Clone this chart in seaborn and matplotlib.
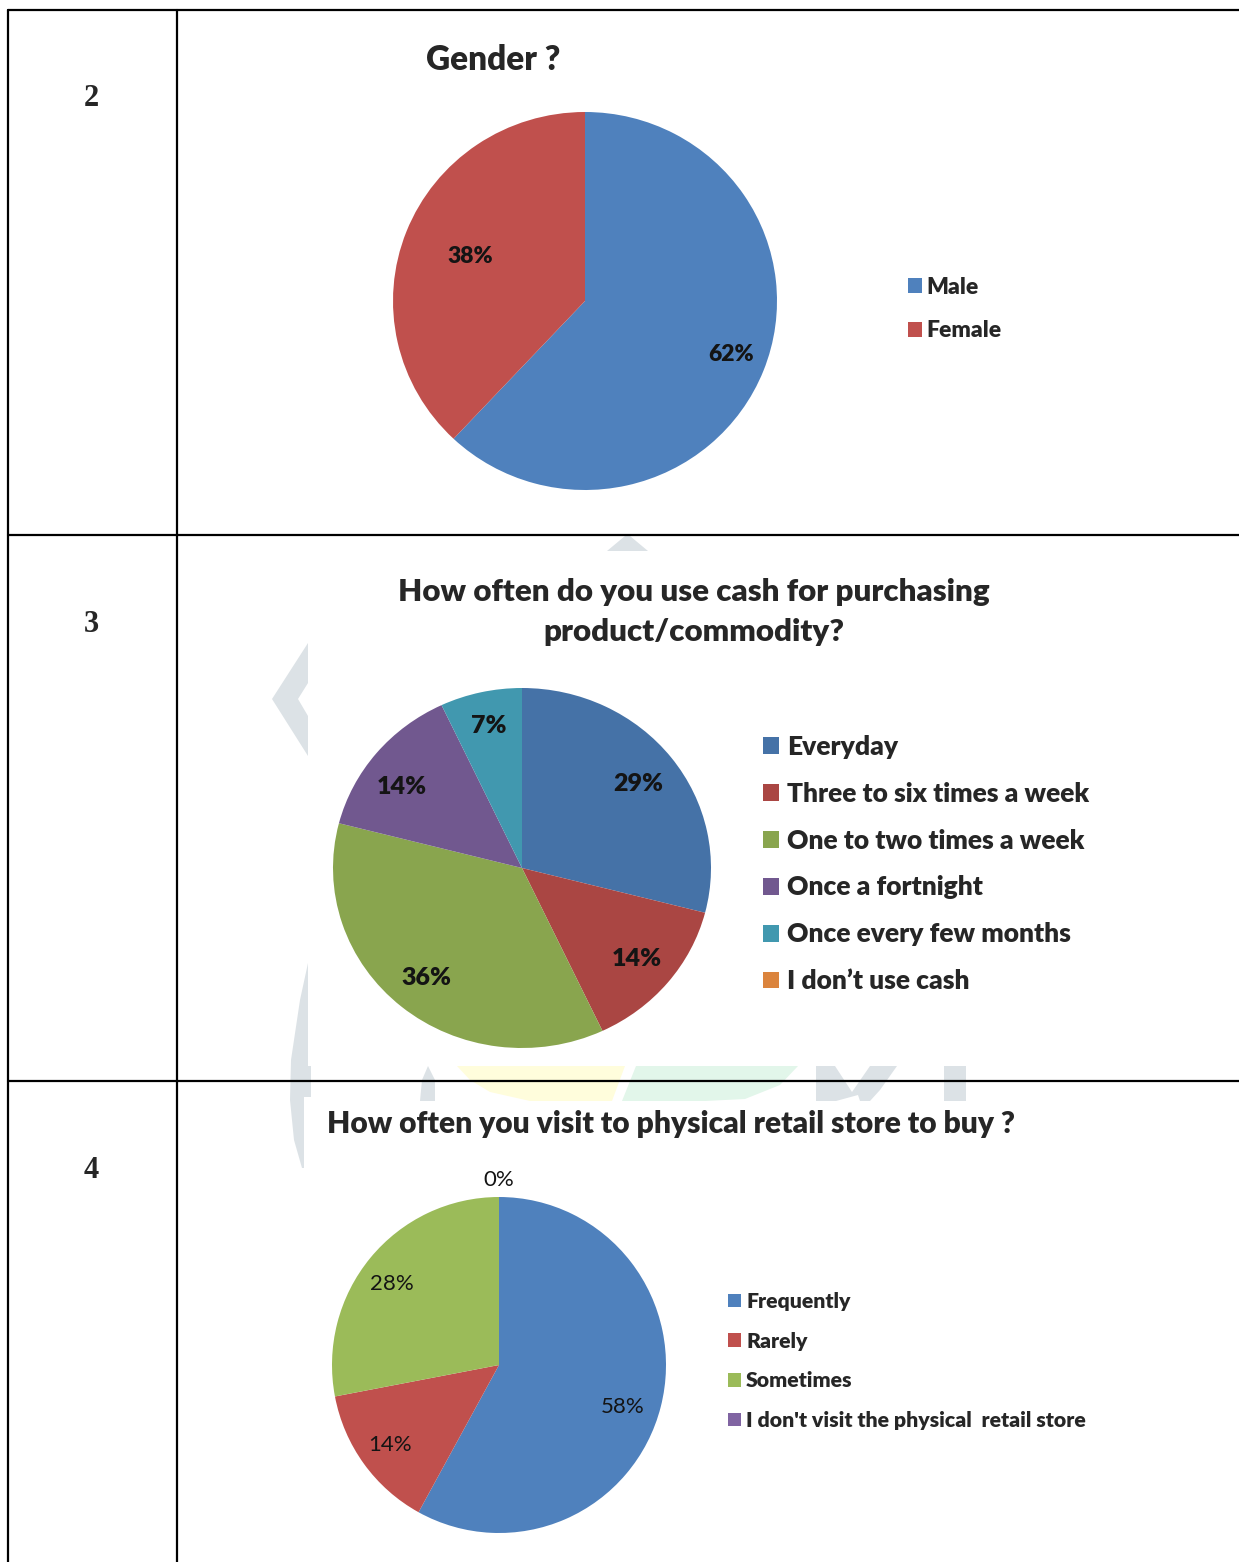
import numpy as np
import matplotlib
matplotlib.use("Agg")
import matplotlib.pyplot as plt
import seaborn as sns
from matplotlib.lines import Line2D
from matplotlib.patches import Polygon

sns.set_theme(style="white")
plt.rcParams['font.family'] = ['Lato', 'DejaVu Sans']

# data
row_numbers = ['2', '3', '4']

gender_title = 'Gender ?'
gender_labels = ['Male', 'Female']
gender_pct = [62, 38]
gender_colors = ['#4F81BD', '#C0504D']

cash_title = 'How often do you use cash for purchasing\nproduct/commodity?'
cash_labels = ['Everyday', 'Three to six times a week', 'One to two times a week',
               'Once a fortnight', 'Once every few months', 'I don\u2019t use cash']
cash_pct = [29, 14, 36, 14, 7, 0]
cash_colors = ['#4572A7', '#AA4643', '#89A54E', '#71588F', '#4198AF', '#DB843D']

visit_title = 'How often you visit to physical retail store to buy ?'
visit_labels = ['Frequently', 'Rarely', 'Sometimes', "I don't visit the physical  retail store"]
visit_pct = [58, 14, 28, 0]
visit_colors = ['#4F81BD', '#C0504D', '#9BBB59', '#8064A2']

W, H = 1239, 1562
BOLD = 'heavy'
fig = plt.figure(figsize=(W / 100, H / 100), dpi=100)
fig.patch.set_facecolor('white')


def fx(x):
    return x / W


def fy(y):
    return 1 - y / H


def hline(y, x0, x1):
    fig.add_artist(Line2D([fx(x0), fx(x1)], [fy(y), fy(y)], transform=fig.transFigure,
                          color='black', lw=1.6, zorder=5))


def vline(x, y0, y1):
    fig.add_artist(Line2D([fx(x), fx(x)], [fy(y0), fy(y1)], transform=fig.transFigure,
                          color='black', lw=1.6, zorder=5))


def shade(pts, color):
    fig.add_artist(Polygon([(fx(a), fy(b)) for a, b in pts], closed=True,
                           transform=fig.transFigure, facecolor=color,
                           edgecolor='none', zorder=0))


# faint watermark pieces peeking around the chart images
wm_grey = '#DCE2E6'
shade([(308, 643), (272, 699), (308, 756), (308, 716), (298, 699), (308, 683)], wm_grey)
shade([(308, 963), (300, 1000), (291, 1060), (290, 1100), (294, 1140), (302, 1168),
       (304, 1168), (304, 1097), (311, 1097), (311, 1066), (308, 1066)], wm_grey)
shade([(607, 551), (648, 551), (630, 536), (625, 536)], wm_grey)
shade([(420, 1101), (422, 1080), (428, 1066), (435, 1080), (435, 1101)], wm_grey)
shade([(457, 1066), (625, 1066), (612, 1101), (530, 1101), (490, 1092), (470, 1080)], '#FFFDDC')
shade([(622, 1101), (636, 1066), (798, 1066), (780, 1085), (745, 1099), (705, 1101)], '#E2F6EA')
shade([(816, 1066), (835, 1066), (852, 1092), (870, 1066), (897, 1066), (880, 1090),
       (870, 1101), (860, 1101), (858, 1095), (836, 1101), (816, 1101)], wm_grey)
shade([(944, 1066), (966, 1066), (966, 1101), (944, 1101)], wm_grey)

# table grid
hline(10, 8, W)
hline(535, 8, W)
hline(1081, 8, W)
vline(8, 10, H)
vline(177, 10, H)

for num, y in zip(row_numbers, [98, 624, 1171]):
    fig.text(fx(91), fy(y), num, ha='center', va='center', fontsize=22,
             fontweight='bold', family='Liberation Serif')


def pie_axes(cx, cy, rx, ry):
    ax = fig.add_axes([fx(cx - rx), fy(cy + ry), 2 * rx / W, 2 * ry / H])
    return ax


def draw_pie(ax, values, colors, pct_fmt, label_size, label_weight, dist):
    wedges, texts, autotexts = ax.pie(values, colors=colors, startangle=90,
                                      counterclock=False, autopct=pct_fmt,
                                      pctdistance=dist, radius=1,
                                      wedgeprops=dict(linewidth=0),
                                      textprops=dict(fontsize=label_size,
                                                     fontweight=label_weight,
                                                     color='#141414'))
    ax.set_aspect('auto')
    ax.set_xlim(-1, 1)
    ax.set_ylim(-1, 1)
    ax.axis('off')
    return wedges, autotexts


def move_labels(wedges, autotexts, radii, turn=None):
    turn = turn or [0] * len(wedges)
    for wedge, txt, r, t in zip(wedges, autotexts, radii, turn):
        ang = np.deg2rad((wedge.theta1 + wedge.theta2) / 2 + t)
        txt.set_position((r * np.cos(ang), r * np.sin(ang)))


# chart 1: gender
fig.text(fx(493), fy(60), gender_title, ha='center', va='center', fontsize=24, fontweight=BOLD)
ax1 = pie_axes(585, 301, 192, 189)
w1, at1 = draw_pie(ax1, gender_pct, gender_colors, lambda p: f'{p:.0f}%', 16.5, BOLD, 0.72)
move_labels(w1, at1, [0.81, 0.64], [1, 0])
fig.legend(w1, gender_labels, loc='center left', bbox_to_anchor=(fx(908), fy(309)),
           frameon=False, borderpad=0, borderaxespad=0,
           prop=dict(weight=BOLD, size=16.5), handlelength=0.6, handleheight=0.6,
           handletextpad=0.2, labelspacing=1.0)

# chart 2: cash usage
fig.text(fx(694), fy(612), cash_title, ha='center', va='center', fontsize=22.5,
         fontweight=BOLD, linespacing=1.53)
ax2 = pie_axes(522, 868, 189, 180)
w2, at2 = draw_pie(ax2, cash_pct, cash_colors, lambda p: f'{p:.0f}%' if p >= 0.5 else '',
                   18, BOLD, 0.79)
move_labels(w2, at2, [0.77, 0.79, 0.79, 0.78, 0.81, 0.79], [-0.5, 0, 0, 4.3, 0, 0])
fig.legend(w2, cash_labels, loc='center left', bbox_to_anchor=(fx(763), fy(864)),
           frameon=False, borderpad=0, borderaxespad=0,
           prop=dict(weight=BOLD, size=19), handlelength=0.6, handleheight=0.6,
           handletextpad=0.3, labelspacing=0.87)

# chart 3: store visits
fig.text(fx(671), fy(1124), visit_title, ha='center', va='center', fontsize=21.6, fontweight=BOLD)
ax3 = pie_axes(499, 1365, 167, 168)
w3, at3 = draw_pie(ax3, visit_pct, visit_colors, lambda p: f'{p:.0f}%', 16, 'normal', 0.8)
move_labels(w3, at3, [0.78, 0.81, 0.8, 1.1], [-4.3, 0, 2.8, 0])
fig.legend(w3, visit_labels, loc='center left', bbox_to_anchor=(fx(728), fy(1361)),
           frameon=False, borderpad=0, borderaxespad=0,
           prop=dict(weight=BOLD, size=15.3), handlelength=0.6, handleheight=0.6,
           handletextpad=0.25, labelspacing=0.97)

fig.savefig('out.png', dpi=100, facecolor='white')
